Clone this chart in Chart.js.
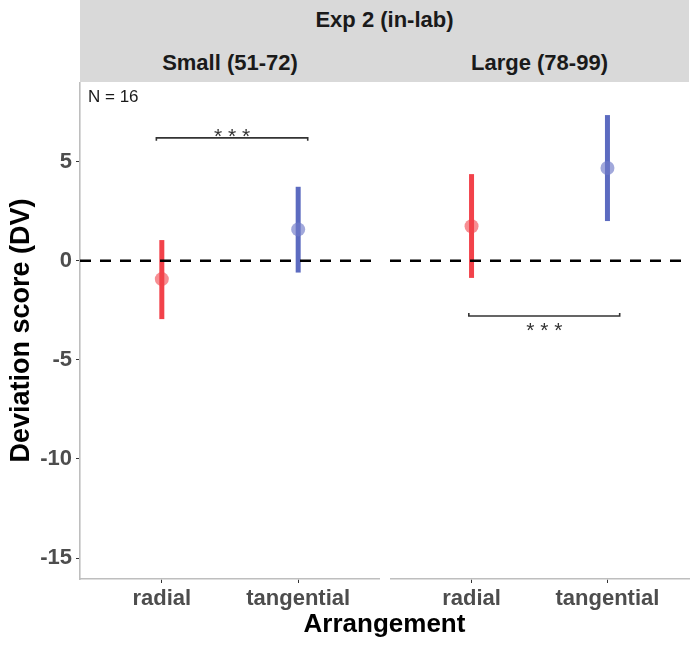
<!DOCTYPE html>
<html>
<head>
<meta charset="utf-8">
<script src="https://cdn.jsdelivr.net/npm/chart.js@4.4.1/dist/chart.umd.min.js"></script>
<style>
  body { margin: 0; background: #fff; font-family: "Liberation Sans", Arial, sans-serif; }
  #wrap { position: relative; width: 700px; height: 649px; overflow: hidden; }
  .strip { position: absolute; left: 80px; top: 0; width: 609px; height: 82px; background: #d9d9d9; }
  .strip div { position: absolute; text-align: center; font-weight: bold; font-size: 22px; color: #1a1a1a; }
  canvas { position: absolute; }
  #xtitle { position: absolute; left: 80px; width: 609px; top: 606px; height: 34px; line-height: 34px;
            text-align: center; font-weight: bold; font-size: 26px; color: #000; }
</style>
</head>
<body>
<div id="wrap">
  <div class="strip">
    <div id="outer" style="left:0;width:609px;top:0;height:40px;line-height:40px;"></div>
    <div id="p1" style="left:0;width:300px;top:42px;height:42px;line-height:42px;"></div>
    <div id="p2" style="left:310px;width:299px;top:42px;height:42px;line-height:42px;"></div>
  </div>
  <div style="position:absolute;left:0;top:82px;width:380px;height:567px;"><canvas id="c1"></canvas></div>
  <div style="position:absolute;left:390px;top:82px;width:310px;height:567px;"><canvas id="c2"></canvas></div>
  <div id="xtitle"></div>
</div>
<script>
// labels
const experiment = "Exp 2 (in-lab)";
const panels = ["Small (51-72)", "Large (78-99)"];
const arrangements = ["radial", "tangential"];
const yTicks = [-15, -10, -5, 0, 5];
const nLabel = "N = 16";

// means and error bar ends, per panel (radial, tangential)
const meanSmall = [-0.92, 1.59];
const lowSmall  = [-2.94, -0.59];
const highSmall = [1.05, 3.74];
const meanLarge = [1.75, 4.69];
const lowLarge  = [-0.86, 2.01];
const highLarge = [4.38, 7.36];

// significance brackets (small, large)
const sigY    = [6.21, -2.78];
const sigFrom = [0.96, 0.98];
const sigTo   = [2.07, 2.09];
const sigTick = [-0.15, 0.15];
const sigText = ["* * *", "* * *"];

const colors = ["#f2424a", "#5c6bc0"];
const pointColors = ["rgba(242,66,74,0.6)", "rgba(110,122,200,0.65)"];

document.getElementById("outer").textContent = experiment;
document.getElementById("p1").textContent = panels[0];
document.getElementById("p2").textContent = panels[1];
document.getElementById("xtitle").textContent = "Arrangement";

const FONT = "'Liberation Sans', Arial, sans-serif";

function buildDatasets(means, lows, highs, k) {
  const ds = [];
  arrangements.forEach((a, i) => {
    ds.push({
      type: "line",
      data: [{ x: i + 1, y: lows[i] }, { x: i + 1, y: highs[i] }],
      borderColor: colors[i], borderWidth: 5, borderCapStyle: "butt",
      pointRadius: 0, order: 4
    });
  });
  ds.push({
    type: "scatter",
    data: means.map((m, i) => ({ x: i + 1, y: m })),
    pointRadius: 7, pointBorderWidth: 0,
    pointBackgroundColor: pointColors, order: 3
  });
  ds.push({
    type: "line",
    data: [{ x: 0.4, y: 0 }, { x: 2.6, y: 0 }],
    borderColor: "#000", borderWidth: 2.5, borderDash: [11, 9],
    pointRadius: 0, order: 1
  });
  ds.push({
    type: "line",
    data: [
      { x: sigFrom[k], y: sigY[k] + sigTick[k] },
      { x: sigFrom[k], y: sigY[k] },
      { x: sigTo[k], y: sigY[k] },
      { x: sigTo[k], y: sigY[k] + sigTick[k] }
    ],
    borderColor: "#333", borderWidth: 1.6, pointRadius: 0, order: 2
  });
  return ds;
}

const annotate = {
  id: "annotate",
  afterDatasetsDraw(chart) {
    const k = chart.options.plugins.annotate.panel;
    const { ctx, scales: { x, y }, chartArea } = chart;
    ctx.save();
    ctx.fillStyle = "#333";
    ctx.font = "21px " + FONT;
    ctx.textAlign = "center";
    ctx.textBaseline = "alphabetic";
    const sx = x.getPixelForValue((sigFrom[k] + sigTo[k]) / 2);
    const sy = y.getPixelForValue(sigY[k]);
    ctx.fillText(sigText[k], sx, k === 0 ? sy + 5 : sy + 21.5);
    if (k === 0) {
      ctx.fillStyle = "#1a1a1a";
      ctx.font = "17px " + FONT;
      ctx.textAlign = "left";
      ctx.textBaseline = "middle";
      ctx.fillText(nLabel, chartArea.left + 8, chartArea.top + 15);
    }
    ctx.restore();
  }
};

function makeChart(id, means, lows, highs, k) {
  const showY = k === 0;
  return new Chart(document.getElementById(id), {
    data: { datasets: buildDatasets(means, lows, highs, k) },
    options: {
      responsive: true, maintainAspectRatio: false, animation: false,
      layout: { autoPadding: false, padding: { left: 0, right: showY ? 0 : 11, top: 0, bottom: 0 } },
      plugins: { legend: { display: false }, tooltip: { enabled: false }, annotate: { panel: k } },
      scales: {
        x: {
          type: "linear", min: 0.4, max: 2.6,
          afterBuildTicks: s => { s.ticks = arrangements.map((a, i) => ({ value: i + 1 })); },
          afterFit: s => { s.height = 70; s.paddingLeft = 0; s.paddingRight = 0; },
          border: { color: "#bebebe", width: 1.6 },
          grid: { drawOnChartArea: false, tickLength: 4, color: "#333", lineWidth: 1 },
          ticks: {
            autoSkip: false, maxRotation: 0, padding: 3, color: "#4d4d4d",
            font: { family: FONT, size: 22, weight: "bold" },
            callback: v => arrangements[v - 1]
          }
        },
        y: {
          type: "linear", min: -16.06, max: 9.03, display: showY,
          afterBuildTicks: s => { s.ticks = yTicks.map(v => ({ value: v })); },
          afterFit: s => {
            if (showY) s.width = 80;
            s.paddingTop = 0; s.paddingBottom = 0;
          },
          border: { color: "#bebebe", width: 1.6 },
          grid: { drawOnChartArea: false, tickLength: 4, color: "#333", lineWidth: 1 },
          ticks: { padding: 4, color: "#4d4d4d", font: { family: FONT, size: 22, weight: "bold" } },
          title: {
            display: true, text: "Deviation score (DV)", color: "#000",
            font: { family: FONT, size: 27, weight: "bold" }, padding: { top: 5 }
          }
        }
      }
    },
    plugins: [annotate]
  });
}

makeChart("c1", meanSmall, lowSmall, highSmall, 0);
makeChart("c2", meanLarge, lowLarge, highLarge, 1);
</script>
</body>
</html>
